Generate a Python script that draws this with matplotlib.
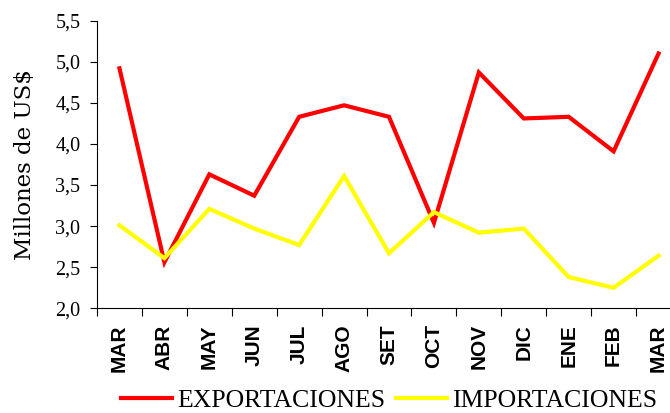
import matplotlib
matplotlib.use("Agg")
import matplotlib.pyplot as plt
from matplotlib.ticker import FuncFormatter, FixedLocator

months = ["MAR", "ABR", "MAY", "JUN", "JUL", "AGO", "SET", "OCT", "NOV", "DIC", "ENE", "FEB", "MAR"]
exportaciones = [4.92, 2.56, 3.63, 3.37, 4.33, 4.47, 4.33, 3.04, 4.87, 4.31, 4.33, 3.91, 5.10]
importaciones = [3.01, 2.61, 3.21, 2.97, 2.77, 3.61, 2.67, 3.17, 2.92, 2.97, 2.38, 2.25, 2.64]
yticks = [2.0, 2.5, 3.0, 3.5, 4.0, 4.5, 5.0, 5.5]

fig = plt.figure(figsize=(6.7, 4.13), dpi=100)
ax = fig.add_axes([0.1448, 0.2535, 0.8716, 0.6965])

x = list(range(len(months)))
ax.plot(x, exportaciones, color="#FF0000", lw=3.0, label="EXPORTACIONES", solid_joinstyle="miter")
ax.plot(x, importaciones, color="#FFFF00", lw=3.0, label="IMPORTACIONES", solid_joinstyle="miter")

ax.set_xlim(-0.5, 12.5)
ax.set_ylim(2.0, 5.5)
ax.set_yticks(yticks)
ax.yaxis.set_major_formatter(FuncFormatter(lambda v, p: f"{v:.1f}".replace(".", ",")))
for t in ax.get_yticklabels():
    t.set_fontfamily("Liberation Serif")
    t.set_fontsize(14.5)
ax.tick_params(axis="y", direction="out", length=5, width=0.8, pad=7, colors="black")

ax.set_xticks(x)
ax.set_xticklabels(months, rotation=90, fontfamily="Liberation Sans", fontweight="bold",
                   fontsize=15, va="top", ha="center")
ax.tick_params(axis="x", which="major", length=0, pad=11.5)
ax.xaxis.set_minor_locator(FixedLocator([i - 0.5 for i in range(14)]))
ax.tick_params(axis="x", which="minor", direction="out", length=6, width=0.8)

ax.spines["top"].set_visible(False)
ax.spines["right"].set_visible(False)
ax.spines["left"].set_linewidth(0.8)
ax.spines["bottom"].set_linewidth(0.8)

ax.set_ylabel("Millones de US$", fontfamily="DejaVu Serif", fontsize=16.5)
ax.yaxis.set_label_coords(-0.105, 0.5)

leg = fig.legend(loc="center", bbox_to_anchor=(0.581, 0.031), ncol=2, frameon=False,
                 prop={"family": "Liberation Serif", "size": 18.5},
                 handlelength=2.0, handletextpad=0.2, columnspacing=0.4)

fig.savefig("out.png", dpi=100)
